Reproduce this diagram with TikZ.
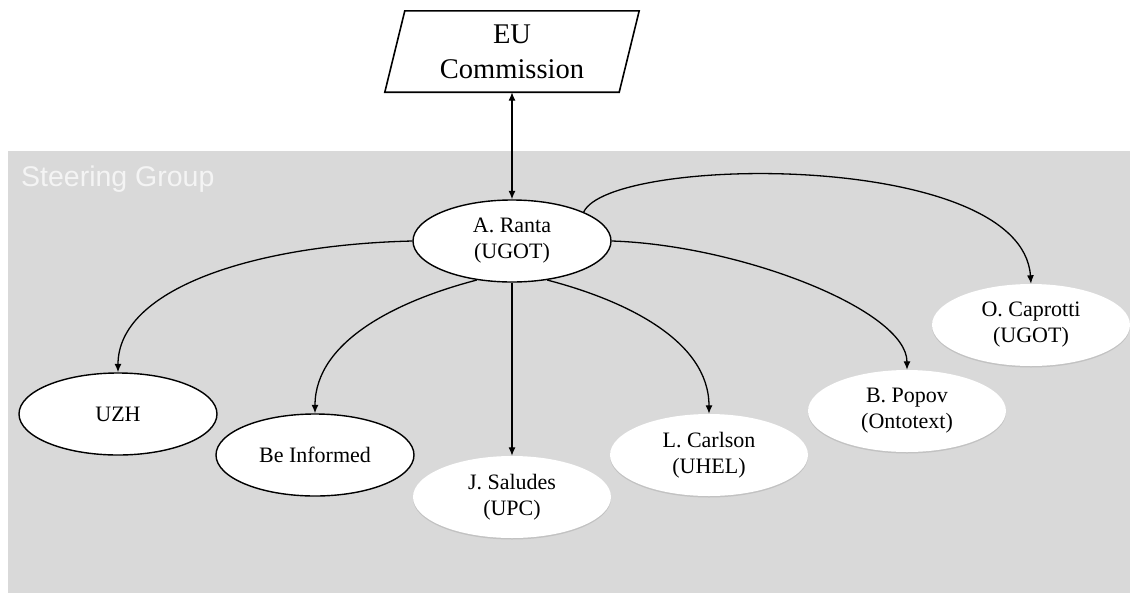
\documentclass[tikz,border=0pt]{standalone}
\usepackage{fontspec}
\setmainfont{Liberation Serif}
\newfontfamily\sgfont{Liberation Sans}
\usetikzlibrary{shapes.geometric,arrows.meta,shadows}
\definecolor{sggray}{HTML}{D9D9D9}
\definecolor{sgtext}{HTML}{F4F4F4}
\begin{document}
\begin{tikzpicture}[x=1pt,y=-1pt,
  >={Latex[length=8.5pt,width=7pt]},
  member/.style={ellipse, fill=white, minimum width=198pt, minimum height=82pt,
    inner sep=0pt, align=center, font=\fontsize{22}{26}\selectfont},
  plainmember/.style={member, drop shadow={shadow xshift=0pt, shadow yshift=-1.5pt, opacity=0.25, fill=gray}},
  framed/.style={member, draw=black, line width=1.4pt},
  link/.style={line width=1.3pt, ->},
  bilink/.style={line width=1.3pt, <->},
]
\useasboundingbox (0,0) rectangle (1130,595);
\fill[white] (0,0) rectangle (1130,595);
\fill[sggray] (8,151) rectangle (1130,593);
\node[anchor=base west, text=sgtext, font=\sgfont\fontsize{28.5}{32}\selectfont, inner sep=0pt] (sg) at (21,186) {Steering Group};

% EU Commission (parallelogram)
\node[minimum width=234pt, minimum height=81pt, inner sep=0pt, align=center,
      font=\fontsize{28.5}{35}\selectfont] (eu) at (512,51.5) {EU\\Commission};
\draw[line width=1.6pt] ([xshift=10pt]eu.north west) -- ([xshift=10pt]eu.north east)
  -- ([xshift=-10pt]eu.south east) -- ([xshift=-10pt]eu.south west) -- cycle;

% members
\node[framed] (ranta) at (512,241) {A. Ranta\\(UGOT)};
\node[framed] (uzh) at (118,414) {UZH};
\node[framed] (beinf) at (315,455) {Be Informed};
\node[plainmember] (saludes) at (512,497) {J. Saludes\\(UPC)};
\node[plainmember] (carlson) at (709,455) {L. Carlson\\(UHEL)};
\node[plainmember] (popov) at (907,411) {B. Popov\\(Ontotext)};
\node[plainmember] (caprotti) at (1031,325) {O. Caprotti\\(UGOT)};

% connectors
\draw[bilink] (eu.south) -- (ranta.north);
\draw[link] (ranta.west) .. controls (250,245) and (118,290) .. (uzh.north);
\draw[link] (ranta.228) .. controls (400,300) and (315,340) .. (beinf.north);
\draw[link] (ranta.south) -- (saludes.north);
\draw[link] (ranta.-48) .. controls (624,300) and (709,340) .. (carlson.north);
\draw[link] (ranta.east) .. controls (740,245) and (907,310) .. (popov.north);
\draw[link] (ranta.22) .. controls (610,155) and (1022,150) .. (caprotti.north);
\end{tikzpicture}
\end{document}
